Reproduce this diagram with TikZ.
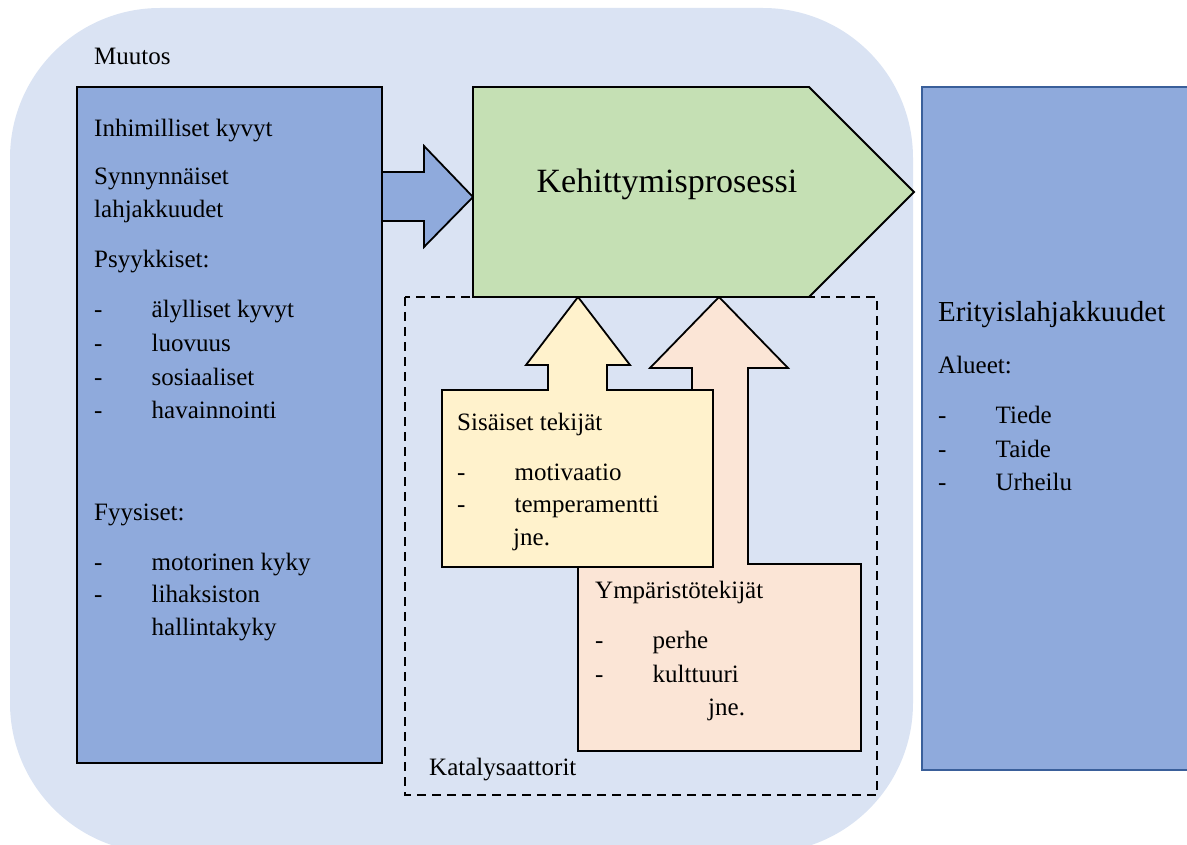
\documentclass[tikz,border=0pt]{standalone}
\usepackage{fontspec}
\setmainfont{Liberation Serif}
\definecolor{bgblue}{HTML}{DAE3F3}
\definecolor{boxblue}{HTML}{8FAADC}
\definecolor{edgeblue}{HTML}{3A5F9A}
\definecolor{green1}{HTML}{C5E0B4}
\definecolor{yellow1}{HTML}{FFF2CC}
\definecolor{pink1}{HTML}{FBE5D6}
\begin{document}
\begin{tikzpicture}[x=1pt,y=-1pt,
  txt/.style={anchor=base west, inner sep=0pt, font=\fontsize{25}{30}\selectfont},
  bigtxt/.style={anchor=base west, inner sep=0pt, font=\fontsize{29}{34}\selectfont},
  titletxt/.style={anchor=base, inner sep=0pt, font=\fontsize{34}{40}\selectfont},
  outl/.style={draw=black, line width=1.8pt, line join=miter},
]
\newcommand{\dashitem}[1]{\makebox[57.5pt][l]{-}#1}
\clip (0,0) rectangle (1187,845);
% background group
\fill[bgblue, rounded corners=150pt] (10,8) rectangle (913,853);
\node[txt] (muutos) at (94,65) {Muutos};
% left box
\path[outl, fill=boxblue] (77,87) rectangle (382,763);
\node[txt] (l1) at (94,137) {Inhimilliset kyvyt};
\node[txt] (l2) at (94,185) {Synnynnäiset};
\node[txt] (l3) at (94,218) {lahjakkuudet};
\node[txt] (l4) at (94,268) {Psyykkiset:};
\node[txt] (l5) at (94,318) {\dashitem{älylliset kyvyt}};
\node[txt] (l6) at (94,352) {\dashitem{luovuus}};
\node[txt] (l7) at (94,385) {\dashitem{sosiaaliset}};
\node[txt] (l8) at (94,418) {\dashitem{havainnointi}};
\node[txt] (l9) at (94,520) {Fyysiset:};
\node[txt] (l10) at (94,570) {\dashitem{motorinen kyky}};
\node[txt] (l11) at (94,602) {\dashitem{lihaksiston}};
\node[txt] (l12) at (151.5,635) {hallintakyky};
% blue block arrow
\path[outl, fill=boxblue] (382,172) -- (424,172) -- (424,146) -- (473,197) -- (424,247) -- (424,221) -- (382,221) -- cycle;
% catalysts dashed box
\draw[black, line width=1.8pt, dash pattern=on 9pt off 6pt] (405,297) rectangle (877,795);
\node[txt] (kat) at (429,775) {Katalysaattorit};
% environment callout
\path[outl, fill=pink1] (578,564) -- (692,564) -- (692,368) -- (650,368) -- (719,297) -- (788,368) -- (748,368) -- (748,564) -- (861,564) -- (861,751) -- (578,751) -- cycle;
\node[txt] (y1) at (595,598) {Ympäristötekijät};
\node[txt] (y2) at (595,648) {\dashitem{perhe}};
\node[txt] (y3) at (595,682) {\dashitem{kulttuuri}};
\node[txt] (y4) at (708,715) {jne.};
% internal callout
\path[outl, fill=yellow1] (442,390) -- (548,390) -- (548,365) -- (526,365) -- (578,297) -- (630,365) -- (607,365) -- (607,390) -- (713,390) -- (713,567) -- (442,567) -- cycle;
\node[txt] (s1) at (457,430) {Sisäiset tekijät};
\node[txt] (s2) at (457,480) {\dashitem{motivaatio}};
\node[txt] (s3) at (457,512) {\dashitem{temperamentti}};
\node[txt] (s4) at (513,545) {jne.};
% process pentagon
\path[outl, fill=green1] (473,87) -- (809,87) -- (914,192) -- (809,297) -- (473,297) -- cycle;
\node[titletxt] (proc) at (667,193) {Kehittymisprosessi};
% right box
\path[draw=edgeblue, line width=1.8pt, fill=boxblue] (922,87) rectangle (1200,770);
\node[bigtxt] (r1) at (938,322) {Erityislahjakkuudet};
\node[txt] (r2) at (938,373) {Alueet:};
\node[txt] (r3) at (938,423) {\dashitem{Tiede}};
\node[txt] (r4) at (938,457) {\dashitem{Taide}};
\node[txt] (r5) at (938,490) {\dashitem{Urheilu}};
\end{tikzpicture}
\end{document}
